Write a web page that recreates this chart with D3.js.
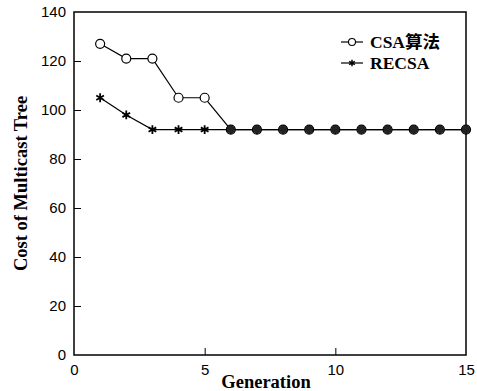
<!DOCTYPE html>
<html>
<head>
<meta charset="utf-8">
<script src="https://cdn.jsdelivr.net/npm/d3@7"></script>
<style>
  body { margin: 0; background: #fff; }
  .tick text { font-family: "Liberation Sans", Arial, sans-serif; font-size: 15px; fill: #000; }
  .title { font-family: "Liberation Serif", "Times New Roman", serif; font-weight: bold; font-size: 18.5px; }
  .legend-text { font-family: "Liberation Serif", "Times New Roman", "Noto Sans CJK SC", serif; font-weight: bold; font-size: 17.5px; }
</style>
</head>
<body>
<svg id="chart"></svg>
<script>
const generations = d3.range(1, 16);
const csaCost   = [127, 121, 121, 105, 105, 92, 92, 92, 92, 92, 92, 92, 92, 92, 92];
const recsaCost = [105, 98, 92, 92, 92, 92, 92, 92, 92, 92, 92, 92, 92, 92, 92];
const xTicks = [0, 5, 10, 15];
const yTicks = [0, 20, 40, 60, 80, 100, 120, 140];
const seriesNames = ['CSA算法', 'RECSA'];

const size = {w: 477, h: 391};
const margin = {t: 12, r: 11, b: 36, l: 74};
const svg = d3.select('svg#chart')
    .attr('width', size.w)
    .attr('height', size.h);

const w = size.w - margin.l - margin.r;
const h = size.h - margin.t - margin.b;

const g = svg.append('g')
    .attr('transform', `translate(${margin.l}, ${margin.t})`);

const x = d3.scaleLinear().domain([0, 15]).range([0, w]);
const y = d3.scaleLinear().domain([0, 140]).range([h, 0]);

// frame
g.append('rect')
    .attr('width', w).attr('height', h)
    .attr('fill', 'none').attr('stroke', '#000').attr('stroke-width', 1.5);

// axes with inward ticks
const xAxis = g.append('g')
    .attr('transform', `translate(0, ${h})`)
    .call(d3.axisBottom(x).tickValues(xTicks).tickSizeInner(-7).tickSizeOuter(0).tickPadding(9));
xAxis.select('.domain').remove();
xAxis.selectAll('.tick').filter(d => d === 0 || d === 15).select('line').remove();

const yAxis = g.append('g')
    .call(d3.axisLeft(y).tickValues(yTicks).tickSizeInner(-7).tickSizeOuter(0).tickPadding(8));
yAxis.select('.domain').remove();
yAxis.selectAll('.tick').filter(d => d === 0 || d === 140).select('line').remove();

// axis titles
svg.append('text').attr('class', 'title')
    .attr('x', margin.l + w / 2 - 4).attr('y', size.h - 3)
    .attr('text-anchor', 'middle').text('Generation');
svg.append('text').attr('class', 'title')
    .attr('transform', `translate(27, ${margin.t + h / 2}) rotate(-90)`)
    .attr('text-anchor', 'middle').text('Cost of Multicast Tree');

const line = d3.line()
    .x((d, i) => x(generations[i]))
    .y(d => y(d));

const star = d3.symbol().type(d3.symbolAsterisk).size(55);

function drawStar(sel) {
    sel.append('path').attr('d', star).attr('fill', 'none')
        .attr('stroke', '#000').attr('stroke-width', 1.8);
}
function drawCircle(sel) {
    sel.append('circle').attr('r', 4.5).attr('fill', '#fff')
        .attr('stroke', '#000').attr('stroke-width', 1.2);
}

// CSA series
g.append('path').datum(csaCost).attr('d', line)
    .attr('fill', 'none').attr('stroke', '#000').attr('stroke-width', 1.2);
g.append('g').selectAll('g').data(csaCost).join('g')
    .attr('transform', (d, i) => `translate(${x(generations[i])}, ${y(d)})`)
    .call(drawCircle);

// RECSA series
g.append('path').datum(recsaCost).attr('d', line)
    .attr('fill', 'none').attr('stroke', '#000').attr('stroke-width', 1.2);
g.append('g').selectAll('g').data(recsaCost).join('g')
    .attr('transform', (d, i) => `translate(${x(generations[i])}, ${y(d)})`)
    .call(drawStar);

// where the two overlap, the markers merge into a dark blob
g.append('g').selectAll('circle')
    .data(generations.filter((d, i) => csaCost[i] === recsaCost[i]))
    .join('circle')
    .attr('cx', d => x(d)).attr('cy', d => y(92))
    .attr('r', 4).attr('fill', '#222');

// legend
const legend = g.append('g').attr('transform', `translate(${w - 125}, 30)`);
seriesNames.forEach((name, i) => {
    const row = legend.append('g').attr('transform', `translate(0, ${i * 21})`);
    row.append('line').attr('x1', 0).attr('x2', 22)
        .attr('stroke', '#000').attr('stroke-width', 1.2);
    const m = row.append('g').attr('transform', 'translate(11, 0)');
    if (i === 0) {
        m.append('circle').attr('r', 3.5).attr('fill', '#fff')
            .attr('stroke', '#000').attr('stroke-width', 1.1);
    } else {
        m.append('path').attr('d', d3.symbol().type(d3.symbolAsterisk).size(30))
            .attr('stroke', '#000').attr('stroke-width', 1.5);
    }
    row.append('text').attr('class', 'legend-text')
        .attr('x', 29).attr('y', 6).text(name);
});
</script>
</body>
</html>
